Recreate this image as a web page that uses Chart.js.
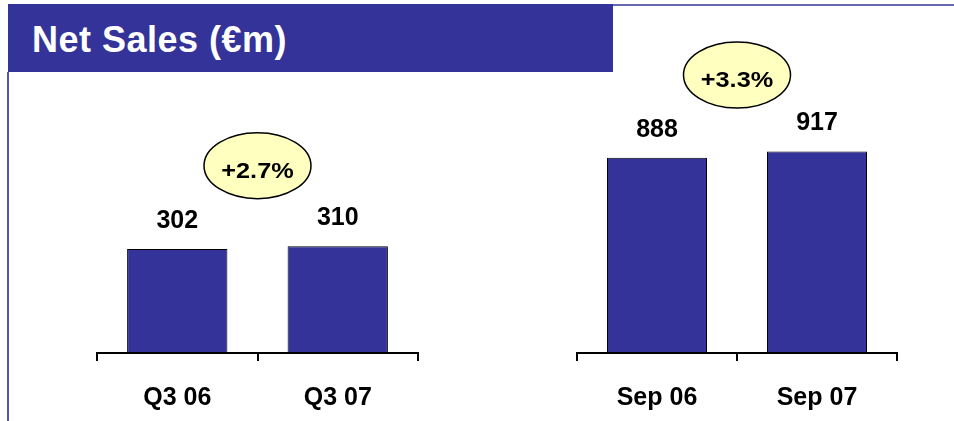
<!DOCTYPE html>
<html>
<head>
<meta charset="utf-8">
<script src="https://cdn.jsdelivr.net/npm/chart.js@4.4.1/dist/chart.umd.min.js"></script>
<style>
    body { margin: 0; background: #ffffff; }
    #page { position: relative; width: 954px; height: 421px; overflow: hidden; background: #ffffff; }
    #titleBar { position: absolute; left: 8px; top: 4px; width: 605px; height: 68px; background: #333399; }
    #titleBar span { position: absolute; left: 24px; top: 15px; color: #ffffff; font: bold 36px "Liberation Sans", Arial, sans-serif; letter-spacing: 0.5px; white-space: nowrap; }
    #topRule { position: absolute; left: 613px; top: 4px; width: 341px; height: 2px; background: #6666b3; }
    #leftRule { position: absolute; left: 7px; top: 72px; width: 2px; height: 349px; background: #5555aa; }
    canvas { position: absolute; top: 0; }
    #quarterChart { left: 93px; }
    #ytdChart { left: 573px; }
</style>
</head>
<body>
<div id="page">
    <div id="titleBar"><span>Net Sales (€m)</span></div>
    <div id="topRule"></div>
    <div id="leftRule"></div>
    <canvas id="quarterChart" width="329" height="421"></canvas>
    <canvas id="ytdChart" width="328" height="421"></canvas>
</div>
<script>
var quarterLabels = ["Q3 06", "Q3 07"];
var quarterSales = [302, 310];
var quarterGrowth = "+2.7%";

var ytdLabels = ["Sep 06", "Sep 07"];
var ytdSales = [888, 917];
var ytdGrowth = "+3.3%";

var fontFamily = "'Liberation Sans', Arial, sans-serif";

// value labels above the bars and the yellow growth bubble
var labelPlugin = {
    id: "barLabels",
    afterDatasetsDraw: function(chart) {
        var ctx = chart.ctx;
        var meta = chart.getDatasetMeta(0);
        var values = chart.data.datasets[0].data;
        var opts = chart.options.plugins.barLabels;

        ctx.save();
        ctx.fillStyle = "#000000";
        ctx.textAlign = "center";
        ctx.textBaseline = "alphabetic";
        ctx.font = "bold 25px " + fontFamily;
        var topY = Infinity;
        for (var i = 0; i < meta.data.length; i++) {
            var bar = meta.data[i];
            ctx.fillText("" + values[i], bar.x, bar.y - 21);
            topY = Math.min(topY, bar.y);
        }

        var cx = (meta.data[0].x + meta.data[meta.data.length - 1].x) / 2;
        var cy = topY - opts.lift;
        ctx.beginPath();
        ctx.ellipse(cx, cy, 53.5, 33, 0, 0, Math.PI * 2);
        ctx.fillStyle = "#ffffc0";
        ctx.fill();
        ctx.lineWidth = 1.5;
        ctx.strokeStyle = "#000000";
        ctx.stroke();

        ctx.translate(cx, cy + 12);
        ctx.scale(1.15, 1);
        ctx.fillStyle = "#000000";
        ctx.font = "bold 22px " + fontFamily;
        ctx.fillText(opts.growth, 0, 0);
        ctx.restore();
    }
};

function makeChart(id, labels, values, growth, yMax, lift) {
    var chartdata = {
        labels: labels,
        datasets: [{
            data: values,
            backgroundColor: "#333399",
            borderColor: "#000000",
            borderWidth: 1,
            borderSkipped: false,
            barPercentage: 0.625,
            categoryPercentage: 1.0
        }]
    };

    return new Chart(document.getElementById(id), {
        type: "bar",
        data: chartdata,
        plugins: [labelPlugin],
        options: {
            responsive: false,
            animation: false,
            layout: { padding: { left: 4, right: 4, top: 0, bottom: 0 } },
            plugins: {
                legend: { display: false },
                tooltip: { enabled: false },
                barLabels: { growth: growth, lift: lift }
            },
            scales: {
                x: {
                    offset: true,
                    border: { display: true, color: "#000000", width: 2 },
                    grid: {
                        offset: true,
                        drawOnChartArea: false,
                        drawTicks: true,
                        tickLength: 8,
                        color: "#000000",
                        lineWidth: 2
                    },
                    ticks: {
                        color: "#000000",
                        padding: 22,
                        font: { family: fontFamily, size: 25, weight: "bold" }
                    },
                    afterFit: function(scale) {
                        scale.height = 68;
                    }
                },
                y: {
                    display: false,
                    min: 0,
                    max: yMax
                }
            }
        }
    });
}

makeChart("quarterChart", quarterLabels, quarterSales, quarterGrowth, 1024, 80.5);
makeChart("ytdChart", ytdLabels, ytdSales, ytdGrowth, 1606, 76.5);
</script>
</body>
</html>
